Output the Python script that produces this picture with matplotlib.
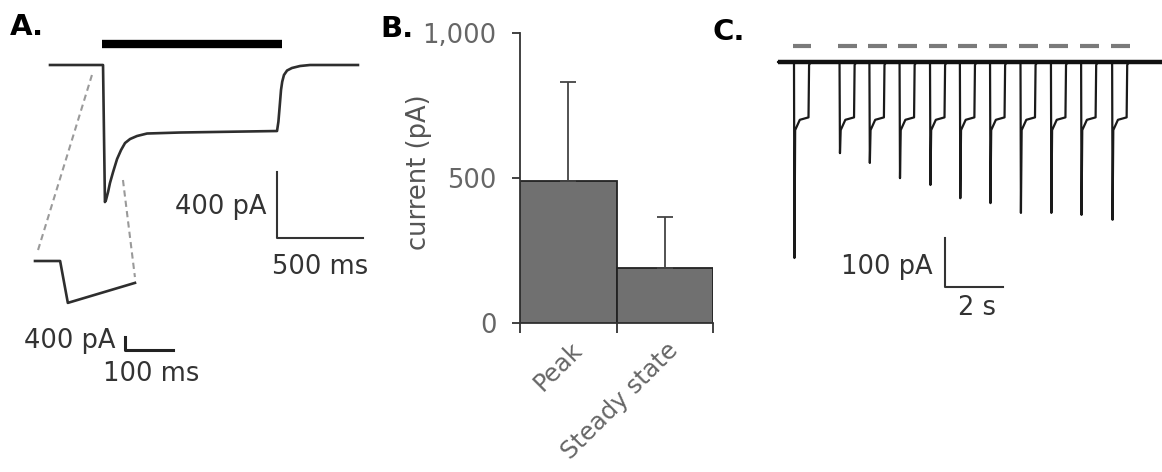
import matplotlib
matplotlib.use("Agg")
import matplotlib.pyplot as plt
from matplotlib.transforms import ScaledTranslation

# ---------------- data ----------------
# Panel A: whole-cell current trace (time in ms, current in pA)
a_time = [0, 306, 317, 323, 335, 346, 364, 387, 410, 433, 462, 502, 560, 750,
          1310, 1318, 1326, 1333, 1340, 1350, 1368, 1396, 1443, 1500, 1777]
a_current = [0, 0, -822, -810, -762, -708, -642, -564, -510, -468, -444, -426,
             -411, -405, -396, -340, -240, -150, -100, -60, -33, -18, -6, 0, 0]
a_stim = [300, 1339]          # stimulus bar on/off (ms)
# Panel A inset: onset on expanded time scale
a_inset_time = [0, 52, 68, 207]
a_inset_current = [0, 0, -1340, -700]

# Panel B: bar chart
b_categories = ["Peak", "Steady state"]
b_means = [490, 188]
b_err = [341, 178]
b_yticks = [0, 500, 1000]
b_yticklabels = ["0", "500", "1,000"]

# Panel C: repeated applications (time in s, current in pA)
c_onsets = [0, 1.57, 2.60, 3.64, 4.69, 5.72, 6.76, 7.81, 8.86, 9.90, 10.97]
c_peaks = [400, 186, 206, 237, 251, 278, 288, 308, 308, 312, 322]
c_shoulder = [139, 118, 113]    # steady level: start, middle, end of pulse
c_pulse_dur = 0.5
c_trace_span = [-0.55, 12.7]

W, H = 1162, 472
fig = plt.figure(figsize=(W / 100, H / 100), dpi=100)

TXT = "#333333"
FS = 18.5


def overlay(x0, y0, sx, sy, z=3):
    """Transparent full-figure axes: origin at pixel (x0, y0 from top), sx/sy px per unit."""
    ax = fig.add_axes([0, 0, 1, 1], zorder=z)
    ax.set_xlim(-x0 / sx, (W - x0) / sx)
    ax.set_ylim(-(H - y0) / sy, y0 / sy)
    ax.set_axis_off()
    ax.patch.set_visible(False)
    return ax


# ---------------- Panel A ----------------
axA = overlay(50, 65, 0.1733, 0.1667)
axA.plot(a_time, a_current, color="#2e2e2e", lw=1.9, solid_joinstyle="round")
axA.plot(a_stim, [126, 126], color="black", lw=6, solid_capstyle="butt")
# zoom guide lines
axA.plot([-69, 242], [-1110, -60], color="#9a9a9a", lw=1.5, ls=(0, (3, 2)))
axA.plot([421, 490], [-690, -1272], color="#9a9a9a", lw=1.5, ls=(0, (3, 2)))
# scale bar 400 pA / 500 ms
axA.plot([1308, 1308, 1808], [-640, -1040, -1040], color="#333333", lw=1.5)
axA.text(1252, -852, "400 pA", ha="right", va="center", fontsize=FS, color=TXT)
axA.text(1558, -1212, "500 ms", ha="center", va="center", fontsize=FS, color=TXT)

axI = overlay(35, 261, 0.483, 0.03125)
axI.plot(a_inset_time, a_inset_current, color="#2e2e2e", lw=1.9)
axI.plot([186, 186, 286], [-2432, -2832, -2832], color="#222222", lw=2.2)
axI.text(166, -2560, "400 pA", ha="right", va="center", fontsize=FS, color=TXT)
axI.text(240, -3616, "100 ms", ha="center", va="center", fontsize=FS, color=TXT)

# ---------------- Panel B ----------------
axB = fig.add_axes([520 / W, (H - 323) / H, (713 - 520) / W, (323 - 33) / H], zorder=2)
xs = list(range(len(b_categories)))
axB.bar(xs, b_means, width=1.0, color="#707070", edgecolor="#222222", linewidth=1.3)
axB.errorbar(xs, b_means, yerr=[[0] * len(b_err), b_err], fmt="none",
             ecolor="#444444", elinewidth=1.3, capsize=6, capthick=1.3)
axB.set_xlim(-0.5, len(b_categories) - 0.5)
axB.set_ylim(0, 1000)
for s in ["top", "right"]:
    axB.spines[s].set_visible(False)
for s in ["left", "bottom"]:
    axB.spines[s].set_color("#333333")
    axB.spines[s].set_linewidth(1.3)
axB.set_yticks(b_yticks)
axB.set_yticklabels(b_yticklabels)
axB.tick_params(axis="y", direction="out", length=6, width=1.3, color="#333333",
                labelsize=FS, labelcolor="#666666", pad=11)
axB.set_xticks(xs)
axB.set_xticklabels(b_categories)
axB.set_xticks([-0.5, 0.5, 1.5], minor=True)
axB.tick_params(axis="x", which="major", length=0, labelsize=17.5, labelcolor="#666666", pad=17)
axB.tick_params(axis="x", which="minor", direction="out", length=7, width=1.3, color="#333333")
for lab in axB.get_xticklabels():
    lab.set_rotation(45)
    lab.set_rotation_mode("anchor")
    lab.set_ha("right")
    lab.set_va("center")
    lab.set_transform(lab.get_transform() + ScaledTranslation(10 / 100, 0, fig.dpi_scale_trans))
axB.set_ylabel("current (pA)", fontsize=FS, color="#555555")
axB.yaxis.set_label_coords(-0.455, 0.52)

# ---------------- Panel C ----------------
axC = overlay(794, 62, 29, 0.49)
ct = [c_trace_span[0]]
ci = [0]
for on, pk in zip(c_onsets, c_peaks):
    ct += [on, on + 0.015, on + 0.04, on + 0.2, on + c_pulse_dur,
           on + c_pulse_dur + 0.02, on + c_pulse_dur + 0.08]
    ci += [0, -pk, -c_shoulder[0], -c_shoulder[1], -c_shoulder[2], -6, 0]
ct.append(c_trace_span[1])
ci.append(0)
axC.plot(ct, ci, color="#1a1a1a", lw=1.6, solid_joinstyle="round")
axC.plot(c_trace_span, [0, 0], color="#111111", lw=3.2, solid_capstyle="butt")
for on in c_onsets:
    axC.plot([on - 0.05, on + 0.6], [33, 33], color="#7a7a7a", lw=3,
             solid_capstyle="butt")
axC.plot([5.21, 5.21, 7.21], [-359, -459, -459], color="#333333", lw=1.5)
axC.text(4.79, -418, "100 pA", ha="right", va="center", fontsize=FS, color=TXT)
axC.text(6.31, -502, "2 s", ha="center", va="center", fontsize=FS, color=TXT)

# ---------------- panel letters ----------------
for lx, ly, s in [(10, 35, "A."), (380, 37, "B."), (713, 40, "C.")]:
    fig.text(lx / W, (H - ly) / H, s, fontsize=21, fontweight="bold",
             color="black", ha="left", va="baseline")

fig.savefig("out.png", dpi=100, facecolor="white")
